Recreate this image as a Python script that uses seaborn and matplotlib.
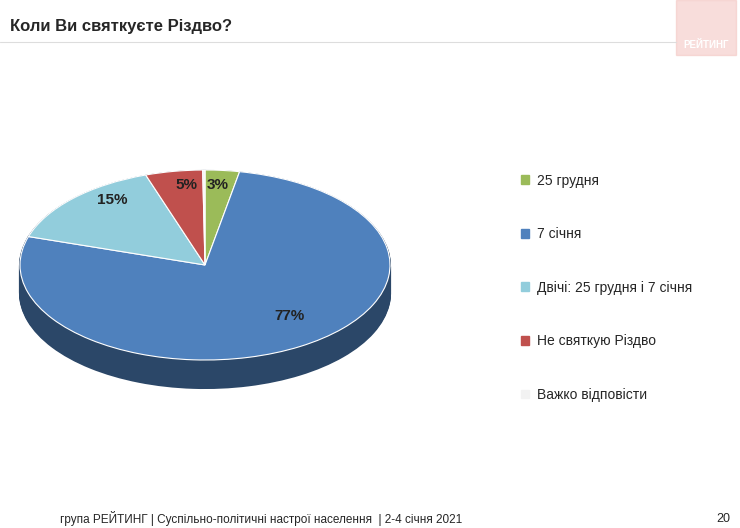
import matplotlib
matplotlib.use("Agg")
import matplotlib.pyplot as plt
import matplotlib.colors as mc
import seaborn as sns
import numpy as np

sns.set_style("white")
plt.rcParams['font.family'] = ['Liberation Sans', 'DejaVu Sans']

categories = ["25 грудня", "7 січня", "Двічі: 25 грудня і 7 січня", "Не святкую Різдво", "Важко відповісти"]
values = [3, 77, 15, 5, 0.2]
labels = ["3%", "77%", "15%", "5%", ""]
colors = ["#9bbb59", "#4f81bd", "#92cddc", "#c0504d", "#f2f2f2"]

W, H = 740, 528
fig = plt.figure(figsize=(W/100, H/100), dpi=100)

# top ellipse: center (205,265), a=185, b=95; depth 28px
CX, CY, A, B, D = 205, 265, 185, 95, 28
ax = fig.add_axes([(CX-A)/W, 1-(CY+B+D)/H, 2*A/W, (2*B+D)/H])
depth = D / B

n = 30
for i in range(n, 0, -1):
    off = depth * i / n
    dark = [tuple(np.array(mc.to_rgb(c)) * 0.55) for c in colors]
    ax.pie(values, colors=dark, startangle=90, counterclock=False,
           center=(0, -off), radius=1, frame=True,
           wedgeprops=dict(linewidth=1.5, edgecolor=dark[1]))
wedges, _ = ax.pie(values, colors=colors, startangle=90, counterclock=False,
                   center=(0, 0), radius=1, frame=True,
                   wedgeprops=dict(edgecolor="white", linewidth=0.8))
ax.set_xlim(-1, 1)
ax.set_ylim(-1-depth, 1)
ax.set_aspect("auto")
ax.axis("off")

def px(x, y):
    return ((x-CX)/A, (CY-y)/B)
pos = [(218, 185), (290, 316), (112, 200), (186, 185)]
for (x, y), t in zip(pos, labels[:4]):
    dx, dy = px(x, y)
    ax.text(dx, dy, t, ha="center", va="center", fontsize=11, fontweight="bold", color="#222222")

handles = [plt.Rectangle((0, 0), 1, 1, color=c) for c in colors]
fig.legend(handles, categories, loc="upper left", bbox_to_anchor=(508/W, 1-161/H),
           frameon=False, fontsize=10, labelspacing=2.85, handlelength=0.6,
           handleheight=0.6, handletextpad=0.6)

fig.text(10/W, 1-27/H, "Коли Ви святкуєте Різдво?", fontsize=12, fontweight="bold", va="center")
fig.text(60/W, 1-519/H, "група РЕЙТИНГ | Суспільно-політичні настрої населення  | 2-4 січня 2021",
         fontsize=8.5, va="center")
fig.text(730/W, 1-519/H, "20", fontsize=9, va="center", ha="right")

fig.patches.append(plt.Rectangle((676/W, 1-55/H), 60/W, 55/H, transform=fig.transFigure,
                                 color="#f4c7c3", alpha=0.6))
fig.text(706/W, 1-45/H, "РЕЙТИНГ", fontsize=7, fontweight="bold", color="white", ha="center", va="center")
fig.add_artist(plt.Line2D([0, 676/W], [1-42/H, 1-42/H], color="#dddddd", lw=0.8))

fig.savefig("out.png", dpi=100)
